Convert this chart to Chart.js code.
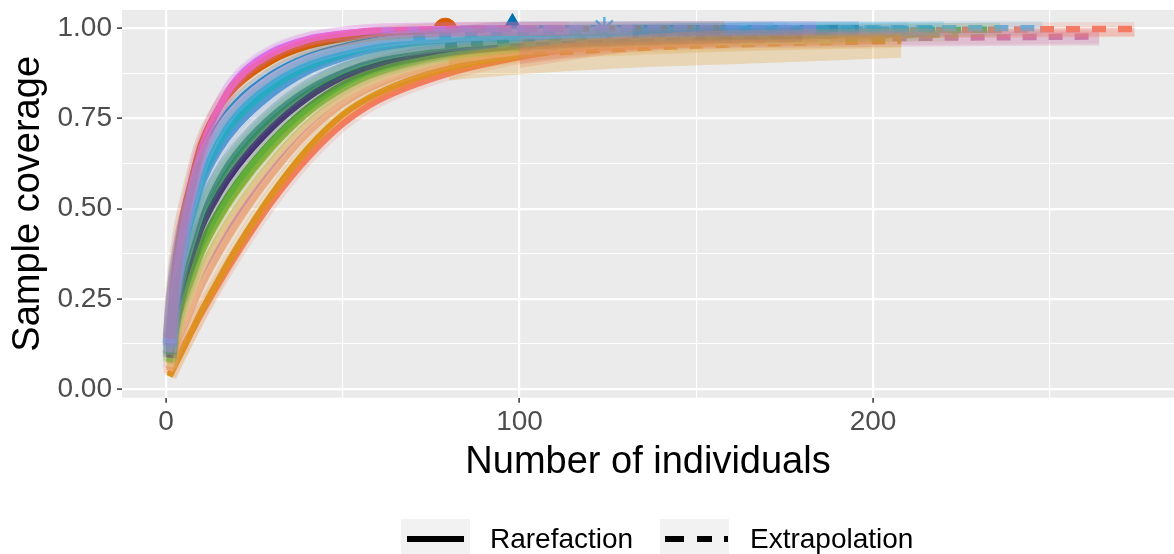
<!DOCTYPE html>
<html>
<head>
<meta charset="utf-8">
<script src="https://cdn.jsdelivr.net/npm/chart.js@4/dist/chart.umd.min.js"></script>
<style>
html,body{margin:0;padding:0;background:#fff;}
#wrap{position:relative;width:1174px;height:554px;overflow:hidden;font-family:"Liberation Sans",Arial,Helvetica,sans-serif;}
#c{position:absolute;left:0;top:0;}
.key{position:absolute;top:519px;width:69px;height:40px;background:#F2F2F2;}
.seg{position:absolute;top:17px;height:6px;background:#000;}
.lab{position:absolute;top:519px;height:40px;line-height:40px;font-size:28px;color:#000;white-space:nowrap;}
</style>
</head>
<body>
<div id="wrap">
  <canvas id="c" width="1174" height="554"></canvas>
  <div class="key" style="left:401px;"><div class="seg" style="left:6px;width:57px;"></div></div>
  <div class="lab" style="left:490px;">Rarefaction</div>
  <div class="key" style="left:660px;">
    <div class="seg" style="left:5px;width:19px;"></div>
    <div class="seg" style="left:37px;width:15px;"></div>
    <div class="seg" style="left:64px;width:4px;"></div>
  </div>
  <div class="lab" style="left:750px;">Extrapolation</div>
</div>
<script>
// ---------------- data ----------------
const GRID_M = [1, 2, 4, 7, 10, 15, 20, 30, 40, 50, 60, 80, 100, 120];
const OBS_N = [79, 92, 57, 66, 110, 88, 105, 124, 98, 75, 86, 95, 108, 90, 118, 108, 112, 96, 100, 132, 104, 137];
// coverage at GRID_M points below n, then at n
const RARE_C = [
  [.14, .29, .44, .57, .68, .78, .84, .91, .95, .97, .985, .996],
  [.10, .22, .38, .54, .66, .78, .86, .935, .97, .985, .993, .998, .999],
  [.12, .25, .40, .55, .665, .78, .855, .93, .968, .985, .992],
  [.127, .262, .399, .52, .624, .723, .786, .866, .916, .945, .965, .972],
  [.124, .255, .388, .508, .61, .709, .772, .854, .907, .938, .96, .979, .987, .99],
  [.119, .243, .371, .487, .587, .685, .75, .836, .893, .928, .952, .974, .979],
  [.114, .231, .354, .466, .564, .661, .727, .817, .879, .917, .944, .969, .98, .982],
  [.127, .262, .399, .52, .624, .723, .786, .866, .916, .945, .965, .982, .99, .996, .998],
  [.129, .266, .405, .528, .633, .732, .795, .873, .921, .949, .968, .984, .999],
  [.103, .208, .319, .425, .517, .614, .682, .78, .85, .896, .927, .95],
  [.122, .25, .381, .499, .601, .699, .763, .847, .902, .934, .957, .977, .98],
  [.098, .196, .302, .404, .494, .59, .66, .762, .836, .886, .919, .953, .967],
  [.093, .184, .285, .383, .471, .566, .637, .743, .822, .875, .911, .948, .965, .97],
  [.087, .172, .267, .362, .447, .542, .615, .725, .807, .865, .902, .942, .952],
  [.096, .191, .295, .396, .485, .58, .651, .755, .83, .882, .916, .951, .967, .976],
  [.077, .149, .233, .321, .401, .495, .57, .688, .779, .844, .886, .932, .954, .96],
  [.072, .137, .216, .30, .378, .471, .547, .669, .765, .833, .878, .927, .951, .96],
  [.061, .114, .181, .259, .331, .424, .502, .632, .736, .812, .861, .916, .94],
  [.051, .09, .147, .217, .285, .376, .457, .595, .708, .791, .845, .906, .936],
  [.056, .102, .164, .238, .308, .40, .48, .614, .722, .802, .853, .911, .94, .956, .962],
  [.035, .055, .095, .155, .215, .305, .39, .54, .665, .76, .82, .89, .925, .93],
  [.04, .06, .10, .155, .21, .295, .375, .52, .64, .735, .80, .875, .92, .95, .965]
];
const EXT_M = [
  [79, 100, 130, 158], [92, 130, 184], [57, 80, 114], [66, 90, 132],
  [110, 150, 190, 220], [88, 120, 150, 176], [105, 140, 180, 210], [124, 170, 248],
  [98, 140, 196], [75, 100, 125, 150], [86, 120, 150, 172], [95, 130, 160, 190],
  [108, 150, 190, 216], [90, 120, 150, 180], [118, 150, 190, 236], [108, 140, 180, 216],
  [112, 150, 190, 224], [96, 130, 160, 192], [100, 140, 170, 200], [132, 170, 210, 264],
  [104, 130, 160, 190, 208], [137, 160, 190, 220, 250, 274]
];
const EXT_C = [
  [.996, .998, .999, 1.0], [.999, 1.0, 1.0], [.992, .997, .999], [.972, .985, .993],
  [.99, .995, .998, .999], [.979, .99, .995, .997], [.982, .99, .995, .997], [.998, .999, 1.0],
  [.999, 1.0, 1.0], [.95, .968, .978, .984], [.98, .99, .995, .997], [.967, .98, .986, .99],
  [.97, .982, .988, .99], [.952, .968, .977, .982], [.976, .986, .993, .996], [.96, .972, .98, .985],
  [.96, .972, .979, .983], [.94, .955, .963, .968], [.936, .952, .96, .965], [.962, .968, .973, .977],
  [.93, .944, .955, .962, .965], [.965, .98, .99, .995, .997, .998]
];
// confidence bands that stay visible beyond the lines
const BAND_SITES = [20, 21, 19];
const BAND_M = [[80, 104, 130, 160, 208], [100, 137, 200, 274], [100, 132, 200, 264]];
const BAND_LO = [[.855, .875, .89, .90, .918], [.89, .94, .97, .976], [.90, .935, .948, .952]];
const BAND_HI = [[.92, .965, .975, .98, .985], [.945, .985, .998, 1.0], [.975, .98, .99, .99]];
// sites whose observed-sample marker shows above the curves
const MARKED = [0, 8, 7, 10];
const X_TICKS = [0, 50, 100, 150, 200, 250];
const X_LABELS = ['0', '', '100', '', '200', ''];
const Y_TICKS = [0, 0.125, 0.25, 0.375, 0.5, 0.625, 0.75, 0.875, 1];
const Y_LABELS = ['0.00', '', '0.25', '', '0.50', '', '0.75', '', '1.00'];

// ---------------- styles ----------------
const COLORS = ['#D55E00', '#C77CFF', '#F564C8', '#EDB5D8', '#1AA6E6', '#22B2C4', '#5B97D6', '#56B4E9',
  '#0072B2', '#B9C8D6', '#24A38B', '#1E7B70', '#9DA7AA', '#3A2470', '#3DB54A', '#5BAE3A',
  '#8BB23E', '#E2D38A', '#EEB482', '#CC79A7', '#DB9418', '#F47C63'];
const DRAW_RANK = [2, 1, 0, 3, 4, 5, 7, 8, 6, 10, 9, 11, 14, 13, 12, 15, 16, 17, 18, 20, 21, 19];
const MARKER_STYLE = {0: 'circle', 8: 'triangle', 7: 'star', 10: 'rect'};
const FONT = '"Liberation Sans", Arial, Helvetica, sans-serif';

const datasets = [];
const pts = (xs, ys) => xs.map((x, k) => ({x: x, y: ys[k]}));
const rareX = s => GRID_M.filter(m => m < OBS_N[s]).concat([OBS_N[s]]);

DRAW_RANK.forEach((s, rank) => {
  const rare = pts(rareX(s), RARE_C[s]);
  const ext = pts(EXT_M[s], EXT_C[s]);
  const base = {pointRadius: 0, pointHoverRadius: 0, cubicInterpolationMode: 'monotone', fill: false, borderCapStyle: 'butt'};
  datasets.push(Object.assign({}, base, {data: rare, borderColor: COLORS[s], borderWidth: 6.5, order: 100 + rank * 2}));
  datasets.push(Object.assign({}, base, {data: ext, borderColor: COLORS[s], borderWidth: 6.5, borderDash: [14, 12], order: 101 + rank * 2}));
  datasets.push(Object.assign({}, base, {data: rare.concat(ext.slice(1)), borderColor: COLORS[s] + '2E', borderWidth: 14, order: 60 + rank}));
});
BAND_SITES.forEach((s, b) => {
  const base = {pointRadius: 0, pointHoverRadius: 0, cubicInterpolationMode: 'monotone', borderWidth: 0, order: 40 + b};
  datasets.push(Object.assign({}, base, {data: pts(BAND_M[b], BAND_LO[b]), borderColor: 'rgba(0,0,0,0)', fill: false}));
  datasets.push(Object.assign({}, base, {data: pts(BAND_M[b], BAND_HI[b]), borderColor: 'rgba(0,0,0,0)', fill: '-1', backgroundColor: COLORS[s] + '40'}));
});
MARKED.forEach(s => {
  const n = OBS_N[s];
  const c = RARE_C[s][RARE_C[s].length - 1];
  const st = MARKER_STYLE[s];
  const open = (st === 'star' || st === 'rect');
  datasets.push({
    data: [{x: n, y: c}], showLine: false, order: 1000,
    pointStyle: st, pointRadius: st === 'triangle' ? 15 : (st === 'circle' ? 11.5 : 12), pointHoverRadius: 12,
    pointBackgroundColor: open ? 'rgba(0,0,0,0)' : COLORS[s],
    pointBorderColor: COLORS[s], pointBorderWidth: open ? 2.5 : 1
  });
});

const panelBg = {
  id: 'panelBg',
  beforeDraw(chart) {
    const {ctx, chartArea: a} = chart;
    ctx.save();
    ctx.fillStyle = '#EBEBEB';
    ctx.fillRect(a.left, a.top, a.right - a.left, a.bottom - a.top);
    ctx.restore();
  }
};
const noPad = sc => { sc.paddingTop = 0; sc.paddingBottom = 0; sc.paddingLeft = 0; sc.paddingRight = 0; };

Chart.defaults.font.family = FONT;

new Chart(document.getElementById('c'), {
  type: 'line',
  data: {datasets: datasets},
  plugins: [panelBg],
  options: {
    responsive: false,
    animation: false,
    events: [],
    layout: {autoPadding: false, padding: {top: 10, right: 0, left: 0, bottom: 69}},
    plugins: {legend: {display: false}, tooltip: {enabled: false}},
    scales: {
      x: {
        type: 'linear', min: -12.45, max: 285.15,
        afterBuildTicks: sc => { sc.ticks = X_TICKS.map(v => ({value: v})); },
        afterFit: sc => { sc.height = 87.3; noPad(sc); },
        border: {display: false},
        grid: {
          color: '#FFFFFF',
          lineWidth: ctx => (ctx.tick && X_LABELS[X_TICKS.indexOf(ctx.tick.value)] !== '') ? 2.2 : 1.1,
          drawTicks: true, tickLength: 5, tickWidth: 1.5,
          tickColor: ctx => (ctx.tick && X_LABELS[X_TICKS.indexOf(ctx.tick.value)] !== '') ? '#333333' : 'rgba(0,0,0,0)'
        },
        ticks: {
          autoSkip: false, maxRotation: 0, padding: 3, color: '#4D4D4D', font: {size: 28},
          callback: v => { const i = X_TICKS.indexOf(v); return i >= 0 ? X_LABELS[i] : ''; }
        },
        title: {display: true, text: 'Number of individuals', color: '#000', font: {size: 38}, padding: {top: 0, bottom: 0}}
      },
      y: {
        type: 'linear', min: -0.0241, max: 1.0505,
        afterBuildTicks: sc => { sc.ticks = Y_TICKS.map(v => ({value: v})); },
        afterFit: sc => { sc.width = 122; noPad(sc); },
        border: {display: false},
        grid: {
          color: '#FFFFFF',
          lineWidth: ctx => (ctx.tick && Y_LABELS[Y_TICKS.indexOf(ctx.tick.value)] !== '') ? 2.2 : 1.1,
          drawTicks: true, tickLength: 5, tickWidth: 1.5,
          tickColor: ctx => (ctx.tick && Y_LABELS[Y_TICKS.indexOf(ctx.tick.value)] !== '') ? '#333333' : 'rgba(0,0,0,0)'
        },
        ticks: {
          autoSkip: false, padding: 5, color: '#4D4D4D', font: {size: 28},
          callback: v => { const i = Y_TICKS.indexOf(v); return i >= 0 ? Y_LABELS[i] : ''; }
        },
        title: {display: true, text: 'Sample coverage', color: '#000', font: {size: 38}, padding: {top: 6, bottom: 0}}
      }
    }
  }
});
</script>
</body>
</html>
